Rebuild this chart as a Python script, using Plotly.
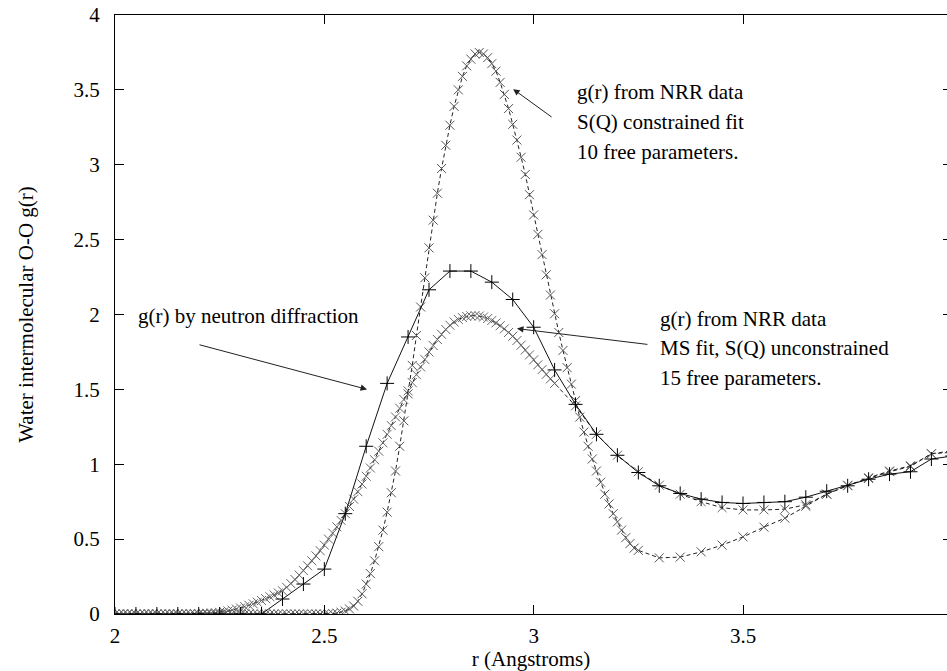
import plotly.graph_objects as go

# ---------------- data ----------------
# g(r) by neutron diffraction (solid, + markers), r step 0.05
r_nd = [2.00, 2.05, 2.10, 2.15, 2.20, 2.25, 2.30, 2.35, 2.40, 2.45,
        2.50, 2.55, 2.60, 2.65, 2.70, 2.75, 2.80, 2.85, 2.90, 2.95,
        3.00, 3.05, 3.10, 3.15, 3.20, 3.25, 3.30, 3.35, 3.40, 3.45,
        3.50, 3.55, 3.60, 3.65, 3.70, 3.75, 3.80, 3.85, 3.90, 3.95, 4.00]
g_nd = [0.0, 0.0, 0.0, 0.0, 0.0, 0.0, 0.0, 0.0, 0.10, 0.20,
        0.30, 0.67, 1.12, 1.54, 1.85, 2.165, 2.29, 2.29, 2.216, 2.10,
        1.915, 1.63, 1.40, 1.20, 1.06, 0.945, 0.856, 0.805, 0.767, 0.745,
        0.738, 0.745, 0.75, 0.78, 0.82, 0.856, 0.90, 0.934, 0.95, 1.035, 1.055]

# g(r) from NRR data, S(Q) constrained fit (dashed, x markers)
r_con_fine = [round(2.00 + 0.01 * i, 2) for i in range(126)]   # 2.00 .. 3.25
g_con_fine = [
    0.0, 0.0, 0.0, 0.0, 0.0, 0.0, 0.0, 0.0, 0.0, 0.0,            # 2.00-2.09
    0.0, 0.0, 0.0, 0.0, 0.0, 0.0, 0.0, 0.0, 0.0, 0.0,            # 2.10-2.19
    0.0, 0.0, 0.0, 0.0, 0.0, 0.0, 0.0, 0.0, 0.0, 0.0,            # 2.20-2.29
    0.0, 0.0, 0.0, 0.0, 0.0, 0.0, 0.0, 0.0, 0.0, 0.0,            # 2.30-2.39
    0.0, 0.0, 0.0, 0.0, 0.0, 0.0, 0.0, 0.0, 0.0, 0.0,            # 2.40-2.49
    0.0, 0.001, 0.003, 0.006, 0.012, 0.02, 0.034, 0.053, 0.085, 0.135,   # 2.50-2.59
    0.20, 0.27, 0.355, 0.45, 0.56, 0.68, 0.81, 0.955, 1.12, 1.29,        # 2.60-2.69
    1.47, 1.66, 1.86, 2.05, 2.245, 2.445, 2.63, 2.81, 2.975, 3.13,       # 2.70-2.79
    3.264, 3.39, 3.50, 3.59, 3.66, 3.705, 3.74, 3.75, 3.74, 3.715,       # 2.80-2.89
    3.675, 3.625, 3.55, 3.47, 3.375, 3.27, 3.165, 3.05, 2.935, 2.80,     # 2.90-2.99
    2.665, 2.535, 2.40, 2.265, 2.13, 2.005, 1.88, 1.76, 1.645, 1.535,    # 3.00-3.09
    1.425, 1.315, 1.215, 1.12, 1.035, 0.955, 0.88, 0.80, 0.735, 0.67,    # 3.10-3.19
    0.615, 0.56, 0.51, 0.47, 0.44, 0.425,                                # 3.20-3.25
]
r_con_coarse = [3.30, 3.35, 3.40, 3.45, 3.50, 3.55, 3.60, 3.65, 3.70,
                3.75, 3.80, 3.85, 3.90, 3.95, 4.00]
g_con_coarse = [0.375, 0.38, 0.415, 0.46, 0.515, 0.58, 0.64, 0.72, 0.80,
                0.86, 0.905, 0.95, 0.985, 1.07, 1.08]

# g(r) from NRR data, MS fit, S(Q) unconstrained (dashed, x markers)
r_unc_fine = [round(2.00 + 0.01 * i, 2) for i in range(106)]   # 2.00 .. 3.05
g_unc_fine = [
    0.0, 0.0, 0.0, 0.0, 0.0, 0.0, 0.0, 0.0, 0.0, 0.0,                    # 2.00-2.09
    0.0, 0.0, 0.0, 0.0, 0.0, 0.0, 0.001, 0.001, 0.002, 0.002,            # 2.10-2.19
    0.003, 0.004, 0.005, 0.007, 0.008, 0.011, 0.015, 0.02, 0.026, 0.033, # 2.20-2.29
    0.04, 0.049, 0.058, 0.068, 0.079, 0.09, 0.102, 0.115, 0.127, 0.141,  # 2.30-2.39
    0.155, 0.178, 0.203, 0.23, 0.26, 0.29, 0.322, 0.355, 0.388, 0.423,   # 2.40-2.49
    0.46, 0.50, 0.54, 0.582, 0.625, 0.67, 0.718, 0.767, 0.817, 0.868,    # 2.50-2.59
    0.92, 0.975, 1.03, 1.087, 1.143, 1.20, 1.258, 1.316, 1.374, 1.432,   # 2.60-2.69
    1.49, 1.545, 1.598, 1.65, 1.70, 1.75, 1.793, 1.833, 1.868, 1.90,     # 2.70-2.79
    1.928, 1.95, 1.967, 1.979, 1.987, 1.991, 1.993, 1.99, 1.983, 1.973,  # 2.80-2.89
    1.96, 1.944, 1.925, 1.904, 1.88, 1.855, 1.826, 1.795, 1.763, 1.73,   # 2.90-2.99
    1.697, 1.664, 1.632, 1.60, 1.57, 1.54,                               # 3.00-3.05
]
r_unc_coarse = [3.10, 3.15, 3.20, 3.25, 3.30, 3.35, 3.40, 3.45, 3.50, 3.55,
                3.60, 3.65, 3.70, 3.75, 3.80, 3.85, 3.90, 3.95, 4.00]
g_unc_coarse = [1.39, 1.20, 1.06, 0.95, 0.86, 0.80, 0.75, 0.71, 0.695, 0.695,
                0.70, 0.73, 0.80, 0.856, 0.91, 0.955, 0.99, 1.07, 1.09]

x_ticks = [2, 2.5, 3, 3.5, 4]
x_tick_text = ["2", "2.5", "3", "3.5", "4"]
y_ticks = [0, 0.5, 1, 1.5, 2, 2.5, 3, 3.5, 4]
y_tick_text = ["0", "0.5", "1", "1.5", "2", "2.5", "3", "3.5", "4"]

# ---------------- figure ----------------
FONT = "Liberation Serif, Times New Roman, serif"
FS = 21

fig = go.Figure()

fig.add_trace(go.Scatter(
    x=r_con_fine + r_con_coarse, y=g_con_fine + g_con_coarse,
    mode="lines+markers", name="constrained",
    line=dict(color="#222222", width=1, dash="4px,3px"),
    marker=dict(symbol="x-thin", size=9, line=dict(color="#555555", width=1)),
))
fig.add_trace(go.Scatter(
    x=r_unc_fine + r_unc_coarse, y=g_unc_fine + g_unc_coarse,
    mode="lines+markers", name="unconstrained",
    line=dict(color="#222222", width=1, dash="4px,3px"),
    marker=dict(symbol="x-thin", size=9, line=dict(color="#666666", width=1)),
))
fig.add_trace(go.Scatter(
    x=r_nd, y=g_nd, mode="lines+markers", name="neutron",
    line=dict(color="#111111", width=1),
    marker=dict(symbol="cross-thin", size=10, line=dict(color="#000000", width=1)),
))

W, H = 947, 671
L, R, T, B = 115, 0, 15, 57
px_per_unit = (743 - 115) / 1.5
x_end = 2 + (W - L - R) / px_per_unit

ann_font = dict(family=FONT, size=FS, color="black")
annotations = []
labels = [
    (2.05, 1.99, "g(r) by neutron diffraction"),
    (3.099, 3.485, "g(r) from NRR data"),
    (3.099, 3.284, "S(Q) constrained fit"),
    (3.099, 3.084, "10 free parameters."),
    (3.297, 1.967, "g(r) from NRR data"),
    (3.297, 1.773, "MS fit, S(Q) unconstrained"),
    (3.297, 1.579, "15 free parameters."),
]
for lx, ly, txt in labels:
    annotations.append(dict(x=lx, y=ly, xref="x", yref="y", text=txt,
                            showarrow=False, xanchor="left", yanchor="middle",
                            font=ann_font))
arrows = [
    (2.602, 1.50, -169, -45),
    (2.951, 3.505, 40, 29),
    (2.960, 1.906, 132, 16),
]
for hx, hy, ax, ay in arrows:
    annotations.append(dict(x=hx, y=hy, xref="x", yref="y", text="",
                            showarrow=True, ax=ax, ay=ay, axref="pixel", ayref="pixel",
                            arrowhead=2, arrowsize=1.3, arrowwidth=1,
                            arrowcolor="#222222", standoff=0))

fig.update_layout(
    width=W, height=H,
    margin=dict(l=L, r=R, t=T, b=B, pad=0),
    paper_bgcolor="white", plot_bgcolor="white",
    showlegend=False,
    font=dict(family=FONT, size=FS, color="black"),
    annotations=annotations,
    xaxis=dict(
        range=[2, x_end], tickmode="array", tickvals=x_ticks, ticktext=x_tick_text,
        ticks="inside", ticklen=9, tickcolor="black", tickwidth=1,
        showline=True, linecolor="black", linewidth=1, mirror="ticks",
        showgrid=False, zeroline=False, ticklabelstandoff=3,
        title=dict(text="r (Angstroms)", standoff=2, font=dict(family=FONT, size=FS)),
        tickfont=dict(family=FONT, size=FS),
    ),
    yaxis=dict(
        range=[0, 4], tickmode="array", tickvals=y_ticks, ticktext=y_tick_text,
        ticks="inside", ticklen=9, tickcolor="black", tickwidth=1,
        showline=True, linecolor="black", linewidth=1, mirror=False,
        showgrid=False, zeroline=False, ticklabelstandoff=10,
        title=dict(text="Water intermolecular O-O g(r)", standoff=34,
                   font=dict(family=FONT, size=FS)),
        tickfont=dict(family=FONT, size=FS),
    ),
    yaxis2=dict(
        range=[0, 4], overlaying="y", side="right", tickmode="array", tickvals=y_ticks,
        ticks="inside", ticklen=4, tickcolor="black", showticklabels=False,
        showline=False, showgrid=False, zeroline=False,
    ),
)
fig.add_trace(go.Scatter(x=[2], y=[0], yaxis="y2", mode="markers",
                         marker=dict(opacity=0), hoverinfo="skip", showlegend=False))

fig.write_html("out.html", config={"displayModeBar": False},
               post_script="document.body.style.margin='0';document.body.style.overflow='hidden';")
